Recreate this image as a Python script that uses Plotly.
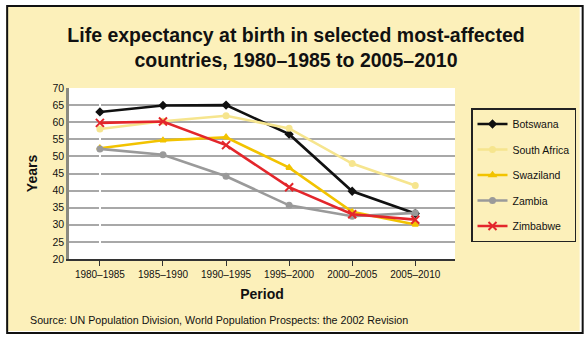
import plotly.graph_objects as go

periods = ["1980–1985", "1985–1990", "1990–1995", "1995–2000", "2000–2005", "2005–2010"]
botswana = [63.0, 64.9, 65.0, 56.5, 39.8, 33.3]
south_africa = [58.0, 60.3, 61.9, 58.2, 47.9, 41.5]
swaziland = [52.4, 54.7, 55.6, 46.7, 33.8, 30.1]
zambia = [52.2, 50.5, 44.2, 35.7, 32.5, 33.5]
zimbabwe = [59.8, 60.2, 53.3, 41.0, 33.1, 31.5]

series = [
    ("Botswana", botswana, "#111111", "diamond", 5),
    ("South Africa", south_africa, "#F6E58E", "circle", 5),
    ("Swaziland", swaziland, "#F2C300", "triangle-up", 5),
    ("Zambia", zambia, "#9A9A9A", "circle", 5),
    ("Zimbabwe", zimbabwe, "#E3262B", "x-thin-open", 8),
]

NARROW = "Liberation Sans Narrow, Arial Narrow, Liberation Sans, Arial"
BOLD = "Liberation Sans, Arial"

# plot area pixel geometry
PX0, PX1, PY0, PY1 = 69, 456, 88, 259
W, H = 587, 337


def px(x):
    return (x - PX0) / (PX1 - PX0)


def py(y):
    return (PY1 - y) / (PY1 - PY0)


fig = go.Figure()
for i, (name, vals, col, sym, ms) in enumerate(series):
    fig.add_trace(go.Scatter(
        x=list(range(len(periods))), y=vals, name=name, mode="lines+markers",
        line=dict(color=col, width=2.6),
        marker=dict(symbol=sym, size=ms, color=col, line=dict(color=col, width=2)),
        legendgroup=name,
    ))

fig.update_layout(
    width=W, height=H,
    margin=dict(l=PX0, r=W - PX1, t=PY0, b=H - PY1),
    paper_bgcolor="#FCF0BA",
    plot_bgcolor="#FFFFFF",
    showlegend=True,
    legend=dict(
        x=px(471), y=py(108), xanchor="left", yanchor="top",
        bgcolor="rgba(0,0,0,0)", bordercolor="#222222", borderwidth=1.5,
        font=dict(family=NARROW, size=10.5, color="#111111"),
        tracegroupgap=6.5, itemwidth=30,
    ),
    xaxis=dict(
        tickmode="array", tickvals=list(range(len(periods))), ticktext=periods,
        range=[-0.49, 5.63], showgrid=False,
        showline=True, linecolor="#333333", linewidth=1.5,
        ticks="outside", ticklen=5, tickcolor="#333333", tickwidth=1,
        tickfont=dict(family=NARROW, size=10, color="#111111"),
        title=dict(text="<b>Period</b>", font=dict(family=BOLD, size=14, color="#111111"), standoff=10),
    ),
    yaxis=dict(
        range=[20, 70], dtick=5, showgrid=True, gridcolor="#A8A8A8", gridwidth=1.5,
        showline=True, linecolor="#8A8A80", linewidth=2.5,
        ticks="", zeroline=False,
        tickfont=dict(family=NARROW, size=10.5, color="#111111"),
        title=dict(text="<b>Years</b>", font=dict(family=BOLD, size=14, color="#111111"), standoff=12),
    ),
    title=dict(
        text="<b>Life expectancy at birth in selected most-affected<br>countries, 1980–1985 to 2005–2010</b>",
        x=296 / W, xanchor="center", y=1 - 42 / H, yanchor="middle",
        font=dict(family=BOLD, size=19.5, color="#111111"),
    ),
)

fig.add_annotation(
    text="Source: UN Population Division, World Population Prospects: the 2002 Revision",
    xref="paper", yref="paper", x=px(28), y=py(320), xanchor="left", yanchor="middle",
    showarrow=False, font=dict(family=NARROW, size=10.7, color="#111111"),
)

# white margin outside the border and the black frame
fig.add_shape(type="rect", xref="paper", yref="paper",
              x0=px(0), x1=px(W), y0=py(H), y1=py(0),
              line=dict(color="#FFFFFF", width=12), fillcolor="rgba(0,0,0,0)", layer="above")
fig.add_shape(type="rect", xref="paper", yref="paper",
              x0=px(7), x1=px(584), y0=py(333), y1=py(6),
              line=dict(color="#111111", width=2), fillcolor="rgba(0,0,0,0)", layer="above")

fig.write_html("out.html")
